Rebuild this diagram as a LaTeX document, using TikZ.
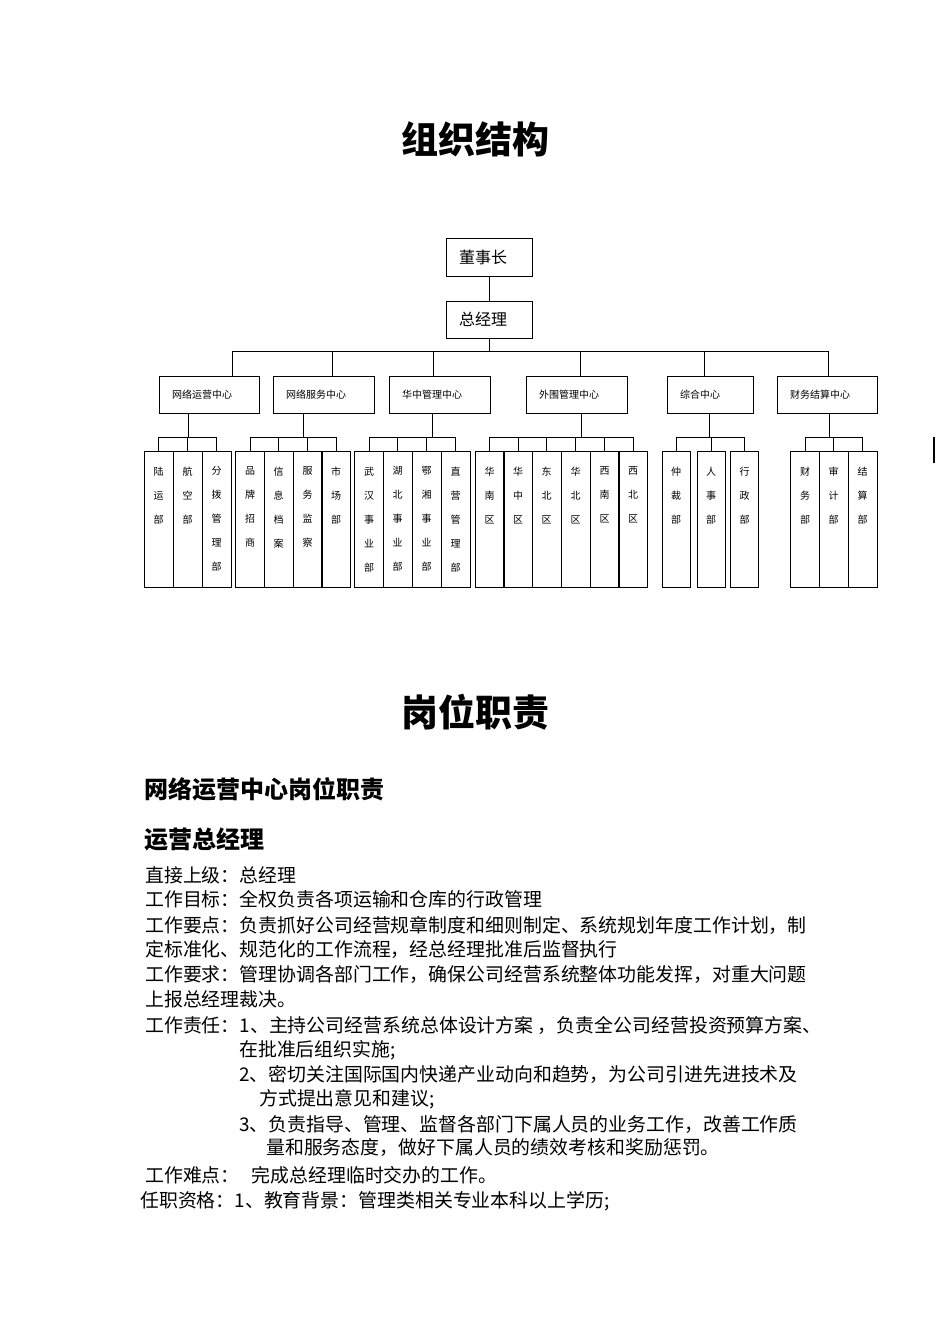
\documentclass[tikz,border=0pt]{standalone}
\usepackage{fontspec}
\setmainfont{Noto Sans CJK SC}
\begin{document}
\begin{tikzpicture}[x=1pt, y=-1pt,
	conn/.style={line width=1pt},
	box/.style={draw, line width=1pt, inner xsep=13pt, inner ysep=0pt, minimum height=37pt, align=left},
	leaf/.style={draw, line width=1pt, minimum width=29pt, minimum height=136pt, inner sep=0pt},
	leaftxt/.style={anchor=north, yshift=-16pt, inner sep=0pt, align=center, font=\fontsize{10pt}{24pt}\selectfont},
	title/.style={inner sep=0pt, font=\fontsize{37pt}{40pt}\selectfont\bfseries},
	head/.style={anchor=west, inner sep=0pt, font=\fontsize{24pt}{28pt}\selectfont\bfseries},
	body/.style={anchor=west, inner sep=0pt, font=\fontsize{18.9pt}{24pt}\selectfont}]
	% Page frame
	\useasboundingbox (0,0) rectangle (950,1343);
	
	% Parameters
	\def\busy{351}   % bus under the general manager
	\def\subbus{438} % bus above the departments
	\def\ly{519}     % centre of the department boxes
	
	% Title
	\node[title] (ttl) at (475,139) {组织结构};
	
	% Top of the chart
	\node[box, text width=60pt, minimum height=38pt, font=\fontsize{16pt}{18pt}\selectfont] (chair) at (489,257) {董事长};
	\node[box, text width=60pt, font=\fontsize{16pt}{18pt}\selectfont] (gm) at (489,319.5) {总经理};
	\draw[conn] (chair) -- (gm);
	\draw[conn] (gm.south) -- (gm.south |- 0,\busy);
	\draw[conn] (232,\busy) -- (828,\busy);
	
	% Centres
	\foreach \n/\x/\w/\t in {c1/209/100/网络运营中心, c2/323.5/101/网络服务中心, c3/439.5/101/华中管理中心,
		c4/576.5/101/外围管理中心, c5/710/86/综合中心, c6/827/100/财务结算中心} {
		\pgfmathsetmacro\tw{\w-26}
		\node[box, text width=\tw pt, font=\fontsize{10pt}{12pt}\selectfont] (\n) at (\x,394.5) {\t};
	}
	\foreach \n/\x in {c1/232, c2/332, c3/433, c4/580, c5/704, c6/828}
		\draw[conn] (\x,\busy) -- (\n.north -| \x,0);
	
	% Departments of each centre
	\foreach \x/\t [count=\i] in {158.5/{陆\\运\\部}, 187.5/{航\\空\\部}, 216.5/{分\\拨\\管\\理\\部}}
		\node[leaf, label={[leaftxt]north:\t}] (g1-\i) at (\x,\ly) {};
	\foreach \x/\t [count=\i] in {250/{品\\牌\\招\\商}, 278.5/{信\\息\\档\\案}, 307.5/{服\\务\\监\\察}, 336/{市\\场\\部}}
		\node[leaf, label={[leaftxt]north:\t}] (g2-\i) at (\x,\ly) {};
	\foreach \x/\t [count=\i] in {369/{武\\汉\\事\\业\\部}, 397.5/{湖\\北\\事\\业\\部}, 426.5/{鄂\\湘\\事\\业\\部}, 455.5/{直\\营\\管\\理\\部}}
		\node[leaf, label={[leaftxt]north:\t}] (g3-\i) at (\x,\ly) {};
	\foreach \x/\t [count=\i] in {489.5/{华\\南\\区}, 518/{华\\中\\区}, 546.5/{东\\北\\区}, 575.5/{华\\北\\区}, 604.5/{西\\南\\区}, 633/{西\\北\\区}}
		\node[leaf, label={[leaftxt]north:\t}] (g4-\i) at (\x,\ly) {};
	\foreach \x/\t [count=\i] in {676/{仲\\裁\\部}, 711/{人\\事\\部}, 744.5/{行\\政\\部}}
		\node[leaf, minimum width=28pt, label={[leaftxt]north:\t}] (g5-\i) at (\x,\ly) {};
	\foreach \x/\t [count=\i] in {805/{财\\务\\部}, 833.5/{审\\计\\部}, 862.5/{结\\算\\部}}
		\node[leaf, label={[leaftxt]north:\t}] (g6-\i) at (\x,\ly) {};
	
	% Small buses
	\foreach \n/\dx [count=\k] in {3/188, 4/303, 4/432, 6/581, 3/709, 3/829} {
		\draw[conn] (c\k.south -| \dx,0) -- (\dx,\subbus);
		\draw[conn] (g\k-1.north) -- ++(0,-13) -| (g\k-\n.north);
		\foreach \i in {2,...,\n}
			\draw[conn] (g\k-\i.north) -- ++(0,-13);
	}
	
	% Stray mark at the right margin
	\draw[line width=1.5pt] (934,437) -- (934,463);
	
	% Second part
	\node[title] (ttl2) at (475,712) {岗位职责};
	\node[head] (h1) at (144,789) {网络运营中心岗位职责};
	\node[head] (h2) at (144,839) {运营总经理};
	
	\foreach \x/\y/\t [count=\i] in {
		145/875/{直接上级：总经理},
		145/899/{工作目标：全权负责各项运输和仓库的行政管理},
		145/925/{工作要点：负责抓好公司经营规章制度和细则制定、系统规划年度工作计划，制},
		145/949/{定标准化、规范化的工作流程，经总经理批准后监督执行},
		145/974/{工作要求：管理协调各部门工作，确保公司经营系统整体功能发挥，对重大问题},
		145/999/{上报总经理裁决。},
		145/1025/{工作责任：1、主持公司经营系统总体设计方案 ，负责全公司经营投资预算方案、},
		239/1050/{在批准后组织实施;},
		239/1074/{2、密切关注国际国内快递产业动向和趋势，为公司引进先进技术及},
		259/1099/{方式提出意见和建议;},
		239/1124/{3、负责指导、管理、监督各部门下属人员的业务工作，改善工作质},
		266/1148/{量和服务态度，做好下属人员的绩效考核和奖励惩罚。},
		145/1175/{工作难点：\hspace{12pt}完成总经理临时交办的工作。},
		140/1201/{任职资格：1、教育背景：管理类相关专业本科以上学历;}}
		\node[body] (t\i) at (\x,\y) {\t};
	
\end{tikzpicture}
\end{document}
